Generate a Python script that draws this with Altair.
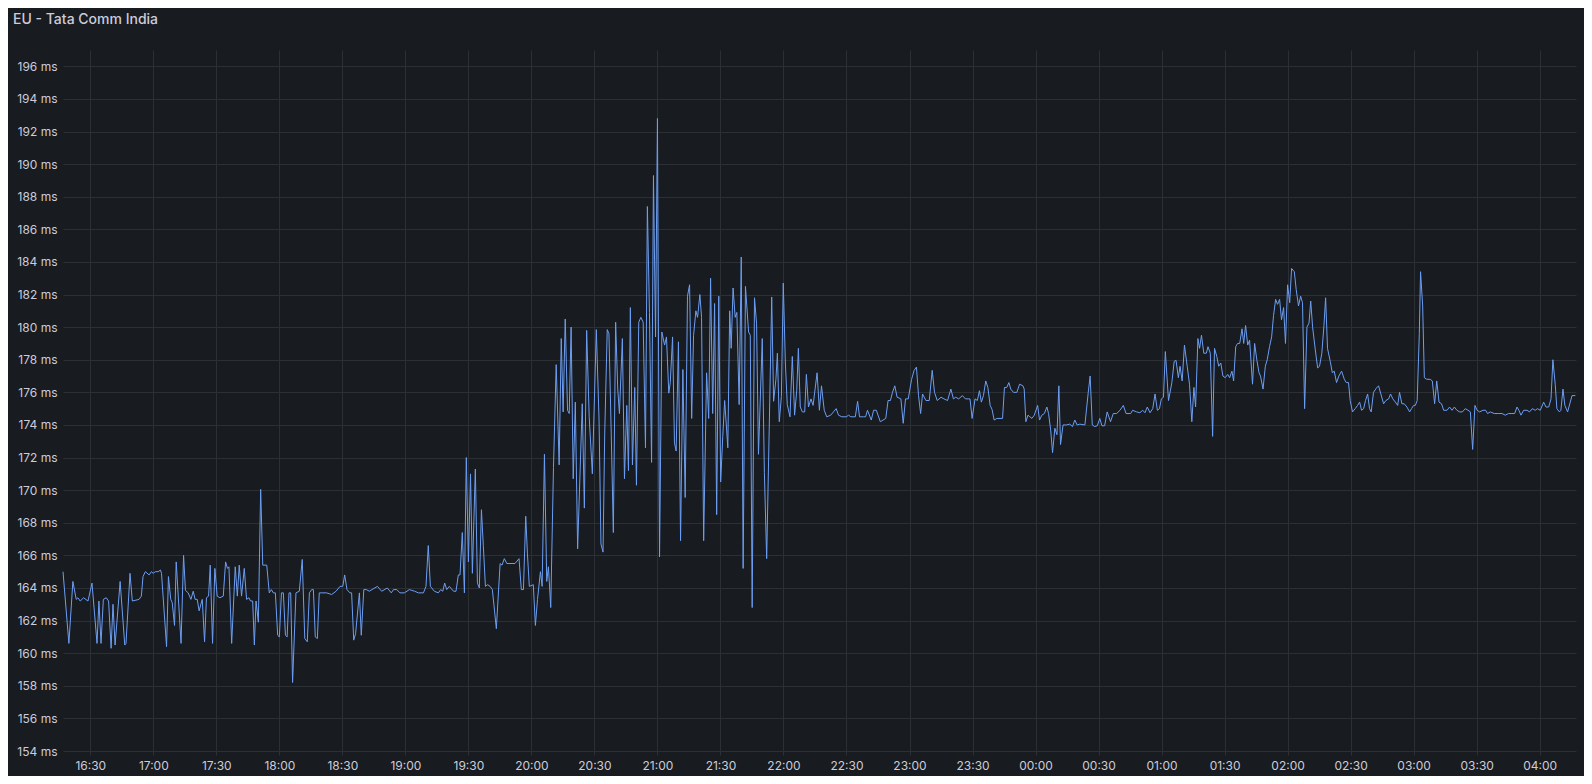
import altair as alt
import pandas as pd

# minutes after 16:30 (day 1) and latency in ms
minutes_after_1630 = [
    -13.0, -10.2, -8.3, -6.7, -5.9, -4.8, -3.2, -1.1, 0.8, 3.2, 4.1, 5.1, 6.2, 7.6, 8.7, 9.9,
    10.8, 11.8, 14.2, 16.4, 17.0, 18.9, 20.0, 23.2, 24.3, 25.1, 26.2, 28.0, 29.1, 29.9, 31.0,
    32.3, 33.4, 33.9, 36.3, 37.2, 38.3, 39.0, 40.1, 40.9, 43.2, 44.4, 45.3, 46.6, 47.9, 49.0,
    49.9, 50.9, 51.8, 53.3, 54.4, 55.3, 56.3, 57.1, 58.2, 59.3, 60.4, 61.7, 63.3, 64.4, 65.3,
    66.0, 67.3, 69.0, 70.0, 70.9, 72.0, 73.3, 74.4, 75.5, 76.3,
    77.3, 78.1, 78.9, 80.0, 81.1, 82.1, 84.0, 85.2, 86.2, 87.1, 88.1, 89.2, 90.0, 91.0, 91.9,
    92.9, 93.7, 94.6, 95.4, 96.3, 97.9, 99.5, 100.9, 102.1, 103.3, 104.3, 105.4, 106.2, 107.1,
    108.1, 109.0, 110.2, 112.5, 114.9, 117.0, 118.9, 120.2, 121.1, 122.2, 123.6, 124.4, 125.4,
    126.3, 128.1, 129.0, 130.2, 131.4, 132.8, 134.1, 136.7, 138.7, 141.4, 143.3, 144.3, 145.9,
    147.4, 149.5, 151.9, 154.4, 156.2, 158.6, 159.8, 160.9, 161.9, 163.8, 165.7, 166.8, 167.8,
    168.7, 169.7, 170.9,
    172.9, 174.1, 175.2, 176.0, 177.1, 178.1, 179.0, 180.0, 181.0, 181.9, 183.3, 184.3, 185.2,
    186.2, 187.1, 188.1, 189.2, 190.3, 191.4, 192.2, 193.3, 195.1, 196.0, 197.1, 198.3, 199.8,
    202.2, 204.1, 205.2, 206.2, 207.3, 208.1, 209.0, 210.9, 211.9, 212.9, 214.3, 215.1, 216.2,
    217.3, 218.1, 219.2, 220.5,
    221.8, 223.2, 224.2, 225.1, 226.1, 227.2, 228.0, 228.9, 229.9, 230.9, 232.0, 234.2, 235.2,
    236.3, 237.5, 239.0, 240.9, 242.2, 243.1, 244.1, 244.9, 246.1, 246.9, 248.0, 249.0, 250.1,
    251.1, 251.9, 253.3, 254.3, 255.4, 256.2, 257.1, 258.1, 259.2, 260.0, 261.1, 262.1, 263.2,
    264.3, 265.2, 266.2, 267.2, 268.1, 269.1, 270.0, 271.0, 272.1, 273.4, 274.3, 275.4, 276.1,
    277.2, 278.1, 278.9, 280.0, 281.0, 282.1, 283.2, 284.3, 285.3, 286.3, 287.2, 288.3, 289.1,
    290.2, 291.0, 292.0, 293.4, 294.4, 295.3, 296.3, 297.2, 298.2, 299.2, 300.1, 301.1, 302.0,
    303.5, 304.4,
    305.1, 306.0, 307.0, 307.8, 308.9, 309.9, 310.8, 311.9, 313.4, 314.2, 315.1, 316.2, 317.2,
    318.1, 319.9, 320.9, 322.0, 323.2, 324.4, 325.3, 326.4, 327.1, 328.0, 329.0, 329.9, 330.9,
    331.8, 333.1, 334.2, 335.3, 336.3, 337.1, 338.0, 339.0, 340.1, 340.9, 341.9, 343.1, 344.1,
    346.0, 347.1, 348.1, 349.4, 350.6, 352.5, 353.8, 355.1, 356.2, 357.8, 359.9, 361.0, 362.1,
    364.2, 365.3, 366.2, 368.1, 369.1, 370.0, 371.8, 372.9, 374.2, 376.1,
    378.7, 379.8, 380.9, 381.9, 383.0, 384.1, 385.9, 387.0, 388.1, 389.4, 391.0, 392.2, 393.3,
    394.3, 395.3, 396.2, 397.8, 399.4, 400.8, 401.9, 403.2, 405.0, 406.4, 408.1, 409.7, 410.9,
    412.0, 413.4, 415.2, 416.6, 418.0, 418.8, 419.8, 421.2, 422.3, 423.3, 424.2, 425.2, 426.3,
    427.3, 428.4, 429.3, 430.3, 431.6, 434.3, 435.2, 436.3, 437.3, 438.2, 439.5, 441.1, 442.4,
    444.0, 444.6, 445.4, 446.4, 447.3, 448.3, 449.4, 451.0, 451.9, 453.0, 454.2, 455.4, 456.2,
    457.2, 458.1, 459.2, 460.2, 461.1, 461.9,
    463.1, 464.7, 466.3, 467.6, 468.7, 469.8, 471.1, 473.5, 475.1, 476.0, 477.0, 478.2, 479.4,
    480.6, 481.6, 482.9, 484.1, 485.7, 487.0, 488.6, 490.2, 491.8, 493.1, 495.3, 496.2, 498.1,
    499.7, 501.0, 502.1, 503.2, 504.5, 505.8, 506.9, 508.0, 509.0, 509.9, 510.9, 511.8, 513.3,
    514.9, 516.0, 516.9, 518.0, 518.8, 519.8, 520.9, 522.2, 523.3, 524.4, 525.4, 526.2, 527.3,
    528.1, 529.0, 530.1, 531.3, 532.1, 533.2, 534.3, 535.2, 536.3, 537.2, 538.2, 539.2, 540.3,
    541.5, 542.4, 543.5, 544.3, 545.3, 546.2, 547.2,
    548.3, 549.1, 550.0, 551.0, 551.9, 553.3, 554.3, 555.4, 556.4, 557.1, 558.3, 559.4, 560.3,
    561.4, 562.4, 563.3, 564.3, 565.2, 566.2, 567.1, 568.1, 569.0, 570.0, 571.0, 571.9, 573.2,
    574.1, 575.2, 576.2, 577.1, 578.1, 579.2, 580.2, 581.0, 581.9, 583.2, 584.3, 585.2, 586.3,
    587.3, 588.1, 589.0, 590.3, 591.3, 592.2, 593.3, 594.4, 595.7, 597.0, 597.9, 599.0, 599.8,
    600.9, 602.2, 603.3, 604.3, 605.2, 606.2, 607.1, 608.1, 609.0, 609.8, 610.9, 612.2, 613.3,
    614.4, 615.7, 616.8, 618.1, 619.0, 620.1, 621.3, 622.4, 623.3, 624.4, 625.5, 626.8, 628.1,
    629.0, 630.0, 630.8, 631.7, 632.7, 633.3, 634.3,
    635.1, 636.3, 637.9, 638.9, 640.0, 641.0, 642.1, 643.3, 644.3, 645.9, 647.1, 648.3, 649.4,
    650.6, 651.9, 653.2, 654.6, 655.9, 657.0, 658.1, 659.2, 660.2, 661.4, 663.0, 664.3, 665.2,
    666.5, 668.4, 670.5, 672.1, 673.6, 675.2, 676.8, 678.1, 679.2, 680.1, 681.1, 682.4, 684.0,
    685.2, 686.5, 687.9, 689.0, 690.3, 691.9, 693.0, 694.3, 695.4, 696.3, 697.4, 698.2, 699.4,
    700.1, 701.1, 702.0, 703.3, 705.4, 707.0,
]

latency_ms = [
    165.0, 160.6, 164.4, 163.3, 163.4, 163.2, 163.4, 163.2, 164.3, 160.6, 163.2, 160.6, 163.3, 163.4, 163.2, 160.3,
    163.0, 160.5, 164.4, 160.5, 160.6, 164.9, 163.2, 163.3, 163.5, 164.7, 165.0, 164.8, 165.0, 164.9, 165.0,
    165.0, 165.1, 164.9, 160.4, 164.7, 163.3, 163.1, 161.7, 165.6, 160.6, 166.0, 163.85, 163.7, 163.3, 163.8,
    163.3, 163.3, 162.6, 163.3, 160.7, 163.4, 163.5, 165.4, 160.6, 165.2, 163.5, 163.4, 163.5, 165.6, 165.2,
    165.3, 160.6, 165.3, 163.5, 165.4, 163.5, 165.2, 163.3, 163.4, 163.2,
    163.2, 160.5, 163.2, 161.9, 170.05, 165.4, 165.4, 163.7, 163.9, 163.7, 163.7, 161.1, 161.0, 163.7, 163.7,
    161.1, 161.0, 163.7, 163.7, 158.2, 163.7, 163.8, 165.75, 160.9, 160.7, 163.7, 163.9, 163.9, 161.0,
    160.9, 163.7, 163.7, 163.7, 163.6, 163.8, 164.1, 164.1, 164.8, 163.9, 163.7, 163.7, 160.8,
    161.2, 163.7, 161.1, 163.9, 163.9, 163.8, 163.9, 164.1, 163.8, 164.0, 163.7, 163.9, 163.9,
    163.7, 163.7, 163.9, 163.8, 163.7, 163.7, 164.1, 166.6, 164.1, 163.8, 163.7, 163.9, 163.8,
    164.3, 163.9, 164.1,
    163.8, 163.8, 164.8, 164.8, 167.4, 163.7, 172.0, 165.6, 171.0, 164.9, 171.3, 164.3, 164.0,
    168.8, 166.6, 164.1, 164.2, 164.1, 163.9, 162.9, 161.5, 165.5, 165.4, 165.8, 165.5, 165.5,
    165.5, 165.8, 163.9, 163.9, 168.4, 166.1, 164.1, 164.2, 161.7, 163.3, 165.0, 164.1, 172.2,
    164.4, 165.3, 162.8, 171.4,
    177.7, 171.55, 179.3, 174.8, 180.5, 174.9, 174.7, 180.0, 170.7, 175.4, 166.4, 175.3, 168.9,
    179.8, 174.5, 171.0, 179.85, 174.3, 166.7, 166.2, 173.5, 179.85, 179.6, 173.5, 167.4, 180.3,
    176.2, 174.7, 179.3, 170.7, 175.2, 171.2, 181.2, 171.55, 176.3, 170.3, 180.3, 180.6, 180.3,
    172.6, 187.4, 180.9, 171.7, 189.3, 179.4, 192.8, 165.9, 179.7, 178.9, 179.4, 175.95, 176.6,
    179.4, 172.9, 172.4, 179.1, 166.9, 177.4, 169.55, 181.9, 182.6, 174.4, 179.5, 181.0, 180.6,
    182.0, 180.6, 166.9, 177.2, 174.4, 183.0, 174.7, 181.45, 168.5, 181.9, 170.5, 173.3, 175.5,
    172.6, 181.0,
    178.7, 182.4, 180.6, 180.9, 175.25, 184.3, 165.2, 182.5, 179.7, 179.5, 162.8, 181.8, 180.2,
    172.2, 179.3, 171.1, 165.8, 173.7, 181.85, 175.45, 176.8, 178.4, 174.2, 175.75, 182.7, 177.8,
    175.25, 174.5, 178.2, 174.6, 176.1, 178.7, 175.1, 174.8, 174.8, 177.1, 175.1, 175.6, 175.2,
    177.2, 174.9, 176.4, 174.9, 174.5, 174.6, 174.8, 175.0, 174.6, 174.5, 174.5, 174.6, 174.5,
    174.5, 175.45, 174.5, 174.5, 174.5, 174.9, 174.3, 174.9, 174.9, 174.2,
    174.4, 175.5, 175.5, 176.0, 176.4, 175.7, 175.6, 174.1, 175.6, 175.6, 176.8, 177.35, 177.55,
    175.8, 174.7, 175.9, 175.5, 175.5, 177.35, 176.0, 175.5, 175.7, 175.6, 175.5, 176.2, 175.6,
    175.7, 175.6, 175.8, 175.6, 175.6, 175.6, 174.4, 175.6, 175.5, 176.1, 175.4, 175.8, 176.7,
    176.3, 175.2, 174.95, 174.3, 174.4, 174.4, 176.3, 176.3, 176.6, 176.2, 176.0, 176.0, 176.5,
    176.4, 176.2, 174.2, 174.6, 174.5, 174.4, 174.6, 175.2, 174.3, 174.6, 174.7, 175.1, 174.7,
    173.7, 172.3, 173.8, 173.4, 176.4, 172.8,
    174.0, 174.0, 174.05, 173.9, 174.3, 174.0, 174.05, 174.0, 176.0, 177.0, 174.0, 173.9, 173.95,
    174.4, 173.95, 173.95, 174.8, 174.2, 174.7, 174.7, 174.9, 175.2, 174.7, 174.7, 174.9, 174.8,
    174.75, 174.9, 174.75, 175.1, 174.75, 175.0, 175.9, 174.9, 175.0, 175.6, 175.7, 178.5, 175.5,
    176.6, 177.9, 177.96, 176.9, 177.6, 176.7, 178.9, 177.6, 176.5, 174.2, 176.3, 175.1, 179.3,
    178.7, 179.5, 178.4, 178.4, 178.8, 178.4, 173.3, 178.7, 178.2, 177.6, 177.8, 177.0, 176.9,
    177.1, 176.9, 177.3, 176.7, 178.8, 179.0, 179.0,
    179.9, 179.0, 180.1, 178.9, 179.2, 176.5, 179.0, 177.95, 177.2, 177.0, 176.2, 177.6, 178.0,
    178.8, 179.4, 180.7, 181.7, 181.4, 181.7, 180.45, 181.2, 179.0, 182.6, 181.5, 183.6, 183.4,
    182.3, 181.3, 181.9, 181.5, 175.0, 180.0, 180.25, 181.6, 180.0, 178.6, 177.5, 177.6, 178.4,
    180.1, 181.8, 178.7, 177.9, 177.2, 177.3, 176.6, 177.0, 177.3, 176.8, 176.6, 176.6, 175.5,
    174.8, 175.0, 175.2, 175.4, 174.9, 175.0, 175.5, 175.9, 175.0, 174.8, 176.0, 176.25, 176.4,
    175.9, 175.3, 175.5, 175.6, 175.9, 175.6, 175.4, 175.2, 176.0, 175.3, 175.3, 175.1, 174.8,
    175.0, 175.2, 175.2, 175.5, 179.6, 183.4, 181.3,
    176.9, 176.8, 176.8, 176.7, 175.3, 176.7, 175.4, 175.3, 174.9, 174.9, 175.1, 174.9, 175.1,
    174.9, 174.8, 174.8, 175.0, 174.9, 174.8, 172.5, 175.2, 174.9, 174.8, 174.9, 174.9, 174.7,
    174.8, 174.7, 174.7, 174.7, 174.6, 174.7, 174.7, 174.7, 175.1, 174.9, 174.6, 174.9, 174.9,
    174.8, 175.0, 174.9, 175.0, 174.9, 175.4, 175.1, 175.1, 175.6, 178.0, 176.5, 175.0, 174.8,
    174.9, 176.2, 175.2, 174.8, 175.8, 175.8,
]

y_tick_values = list(range(154, 197, 2))
panel_title = "EU - Tata Comm India"

# x position in minutes from 16:30; tick every 30 minutes
x_tick_minutes = list(range(0, 691, 30))
x_tick_labels = [f"{(16 + (30 + m) // 60) % 24:02d}:{(30 + m) % 60:02d}" for m in x_tick_minutes]
label_map = "{" + ",".join(f"'{m}':'{l}'" for m, l in zip(x_tick_minutes, x_tick_labels)) + "}"

df = pd.DataFrame({"minute": minutes_after_1630, "latency": latency_ms})

grid_color = "#2c2f34"
text_color = "#ccccdc"

chart = (
    alt.Chart(df)
    .mark_line(color="#6c9ef3", strokeWidth=1)
    .encode(
        x=alt.X(
            "minute:Q",
            scale=alt.Scale(domain=[-13.0, 707.3], nice=False, zero=False),
            axis=alt.Axis(
                title=None,
                values=x_tick_minutes,
                labelExpr=label_map + "[''+datum.value]",
                grid=True,
                gridColor=grid_color,
                gridWidth=1,
                domain=False,
                ticks=True,
                tickSize=4,
                tickColor=grid_color,
                labelPadding=5,
                labelFont="Inter",
                labelFontSize=12,
                labelColor=text_color,
                labelFlush=False,
                labelOverlap=False,
            ),
        ),
        y=alt.Y(
            "latency:Q",
            scale=alt.Scale(domain=[154, 197], nice=False, zero=False),
            axis=alt.Axis(
                title=None,
                values=y_tick_values,
                labelExpr="datum.value + ' ms'",
                grid=True,
                gridColor=grid_color,
                gridWidth=1,
                domain=False,
                ticks=False,
                labelPadding=6,
                labelFont="Inter",
                labelFontSize=12,
                labelColor=text_color,
                labelOverlap=False,
            ),
        ),
    )
    .properties(
        width=1513,
        height=701,
        background="#181b1f",
        padding={"left": 55, "top": 42, "right": 8, "bottom": 25},
        autosize=alt.AutoSizeParams(type="none"),
        title=alt.TitleParams(
            panel_title,
            anchor="start",
            frame="group",
            dx=-50,
            offset=23,
            font="Inter",
            fontSize=14,
            fontWeight=500,
            color=text_color,
        ),
    )
    .configure_view(strokeWidth=0)
)

chart.save("out.html", embed_options={"renderer": "svg", "actions": False})
